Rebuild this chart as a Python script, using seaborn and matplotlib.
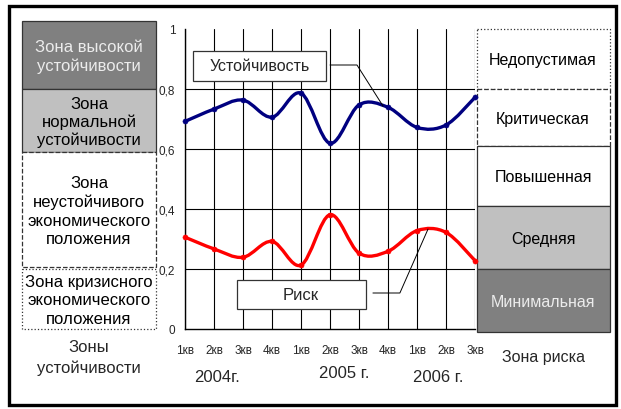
import numpy as np
import matplotlib
matplotlib.use('Agg')
import matplotlib.pyplot as plt
from matplotlib.path import Path
from matplotlib.patches import PathPatch, Rectangle
import seaborn as sns

# data
quarters = ['1кв', '2кв', '3кв', '4кв', '1кв', '2кв', '3кв', '4кв', '1кв', '2кв', '3кв']
years = ['2004г.', '2005 г.', '2006 г.']
stability = [0.692, 0.733, 0.763, 0.706, 0.786, 0.619, 0.747, 0.739, 0.672, 0.680, 0.772]
risk = [0.306, 0.267, 0.239, 0.292, 0.213, 0.381, 0.253, 0.259, 0.328, 0.322, 0.228]
y_ticks = [0, 0.2, 0.4, 0.6, 0.8, 1]
y_tick_labels = ['0', '0,2', '0,4', '0,6', '0,8', '1']
stab_zones = ['Зона высокой\nустойчивости', 'Зона\nнормальной\nустойчивости',
              'Зона\nнеустойчивого\nэкономического\nположения',
              'Зона кризисного\nэкономического\nположения']
risk_zones = ['Недопустимая', 'Критическая', 'Повышенная', 'Средняя', 'Минимальная']

sns.set_style('white')
plt.rcParams['font.family'] = ['Liberation Sans', 'DejaVu Sans']


def smooth_path(xs, ys):
    # excel-like smoothed line: bezier through the points
    p = np.column_stack([xs, ys]).astype(float)
    verts = [p[0]]
    codes = [Path.MOVETO]
    n = len(p)
    for i in range(n - 1):
        p0 = p[i - 1] if i > 0 else p[i]
        p3 = p[i + 2] if i + 2 < n else p[i + 1]
        c1 = p[i] + (p[i + 1] - p0) / 6
        c2 = p[i + 1] - (p3 - p[i]) / 6
        verts += [c1, c2, p[i + 1]]
        codes += [Path.CURVE4] * 3
    return Path(verts, codes)


fig = plt.figure(figsize=(6.21, 4.10), dpi=100)

# background layer in pixel coordinates for the side panels and frame
bg = fig.add_axes([0, 0, 1, 1], zorder=0)
bg.set_xlim(0, 621)
bg.set_ylim(410, 0)
bg.axis('off')
bg.add_patch(Rectangle((9, 7), 607, 399, fill=False, lw=2.4, ec='black'))

# left panel: stability zones
left = [(22, 90, '#808080', '-', '#ececec', 1.25),
        (90, 153, '#c0c0c0', '-', 'black', 1.17),
        (153, 268, 'white', '--', 'black', 1.3),
        (270, 330, 'white', ':', 'black', 1.27)]
for (y0, y1, fc, ls, tc, lsp), txt in zip(left, stab_zones):
    bg.add_patch(Rectangle((22, y0), 134, y1 - y0, fc=fc, ec='#333333', lw=0.9, ls=ls))
    bg.text(89, (y0 + y1) / 2 + 1, txt, ha='center', va='center', fontsize=12,
            color=tc, linespacing=lsp)
bg.text(89, 358, 'Зоны\nустойчивости', ha='center', va='center', fontsize=12,
        linespacing=1.45)

# right panel: risk zones
right = [(30, 90, 'white', ':', 'black'),
         (90, 147, 'white', '--', 'black'),
         (147, 207, 'white', '-', 'black'),
         (207, 270, '#c0c0c0', '-', 'black'),
         (270, 333, '#808080', '-', '#ececec')]
for (y0, y1, fc, ls, tc), txt in zip(right, risk_zones):
    bg.add_patch(Rectangle((477, y0), 133, y1 - y0, fc=fc, ec='#333333', lw=0.9, ls=ls))
    bg.text(543, (y0 + y1) / 2 + 1, txt, ha='center', va='center', fontsize=11.5, color=tc)
bg.text(543, 358, 'Зона риска', ha='center', va='center', fontsize=11.5)

# year captions under the quarters
for xp, yp, yr in zip([217, 344, 438], [378, 374, 378], years):
    bg.text(xp, yp, yr, ha='center', va='center', fontsize=12)

# main chart
ax = fig.add_axes([185 / 621, 80 / 410, 290 / 621, 300 / 410], zorder=1)
ax.patch.set_alpha(0)
x = np.arange(len(quarters))

ax.add_patch(PathPatch(smooth_path(x, stability), fc='none', ec='#000080', lw=2.4,
                       clip_on=False, zorder=3))
ax.add_patch(PathPatch(smooth_path(x, risk), fc='none', ec='#ff0000', lw=2.4,
                       clip_on=False, zorder=3))
sns.scatterplot(x=x, y=stability, ax=ax, color='#000080', marker='o', s=14,
                edgecolor='#000080', clip_on=False, zorder=4)
sns.scatterplot(x=x, y=risk, ax=ax, color='#ff0000', marker='o', s=14,
                edgecolor='#ff0000', clip_on=False, zorder=4)

ax.set_xlim(0, 10)
ax.set_ylim(0, 1)
ax.set_xticks(x)
ax.set_xticklabels(quarters, fontsize=8.5)
ax.set_yticks(y_ticks)
ax.set_yticklabels(y_tick_labels, fontsize=8.5)
ax.tick_params(axis='x', length=0, pad=11)
ax.tick_params(axis='y', length=0, pad=7)
for v in x:
    ax.axvline(v, color='black', lw=0.8, zorder=1)
for v in y_ticks[1:-1]:
    ax.axhline(v, color='black', lw=0.8, zorder=1)
for s in ['top', 'right']:
    ax.spines[s].set_visible(False)
for s in ['left', 'bottom']:
    ax.spines[s].set_color('black')
    ax.spines[s].set_linewidth(1.0)

# callout boxes with leader lines
ax.add_patch(Rectangle((0.28, 0.827), 4.58, 0.10, fc='white', ec='#333333', lw=0.9, zorder=5))
ax.text(2.57, 0.877, 'Устойчивость', ha='center', va='center', fontsize=11.5, zorder=6)
ax.plot([5.0, 5.93, 6.83], [0.88, 0.88, 0.743], color='black', lw=0.7, zorder=5)

ax.add_patch(Rectangle((1.79, 0.067), 4.45, 0.096, fc='white', ec='#333333', lw=0.9, zorder=5))
ax.text(4.0, 0.115, 'Риск', ha='center', va='center', fontsize=12, zorder=6)
ax.plot([6.48, 7.41, 8.38], [0.12, 0.12, 0.333], color='black', lw=0.7, zorder=5)

fig.savefig('out.png', dpi=100)
